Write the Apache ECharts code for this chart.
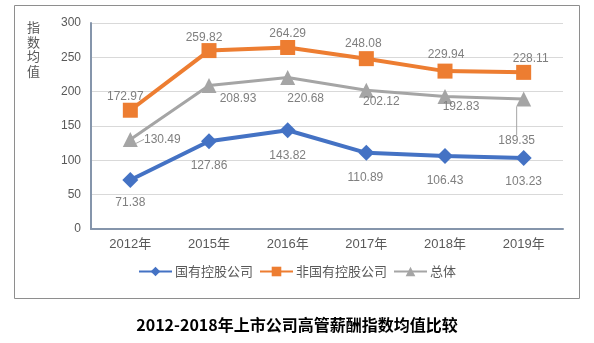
<!DOCTYPE html>
<html>
<head>
<meta charset="utf-8">
<script src="https://cdn.jsdelivr.net/npm/echarts@6/dist/echarts.min.js"></script>
<style>
  html, body { margin: 0; padding: 0; background: #fff; }
  #chart { width: 594px; height: 343px; }
</style>
</head>
<body>
<div id="chart"></div>
<script>
// Categories and series values
const years = ['2012年', '2015年', '2016年', '2017年', '2018年', '2019年'];
const stateOwned = [71.38, 127.86, 143.82, 110.89, 106.43, 103.23];
const nonStateOwned = [172.97, 259.82, 264.29, 248.08, 229.94, 228.11];
const overall = [130.49, 208.93, 220.68, 202.12, 192.83, 189.35];
const seriesNames = ['国有控股公司', '非国有控股公司', '总体'];
const yTicks = [0, 50, 100, 150, 200, 250, 300];
const yAxisTitle = ['指', '数', '均', '值'];
const chartTitle = '2012-2018年上市公司高管薪酬指数均值比较';

// Label placement relative to each marker centre
const blueLabelShift = [[0, 23], [0, 24], [0, 25], [-1, 25], [0, 25], [0, 24]];
const orangeLabelShift = [[-5, -14], [-5, -13], [0, -14], [-3, -15], [1, -16], [7, -14]];
const grayLabelShift = [[32, 0], [29, 13], [18, 21], [15, 11], [16, 10], [-7, 42]];
const grayWithLeader = [true, false, false, false, false, true];

const labelColor = '#7f7f7f';
const labelFont = { color: labelColor, fontSize: 12, fontFamily: 'Liberation Sans, Arial, sans-serif' };

function makeData(values, shifts) {
  return values.map((v, i) => ({ value: v, label: { offset: shifts[i] } }));
}

const chart = echarts.init(document.getElementById('chart'), null, { renderer: 'canvas' });

chart.setOption({
  animation: false,
  backgroundColor: '#ffffff',
  grid: { left: 91, right: 31, top: 23, bottom: 114 },
  graphic: [
    {
      type: 'rect',
      shape: { x: 14.5, y: 5.5, width: 565, height: 293 },
      style: { fill: 'none', stroke: '#8e8e8e', lineWidth: 1 },
      z: -1
    },
    {
      type: 'text',
      left: 27, top: 20,
      style: {
        text: yAxisTitle.join('\n'),
        fill: '#595959',
        font: '13px "Noto Sans CJK SC", sans-serif',
        lineHeight: 14.5
      }
    },
    {
      type: 'text',
      left: 'center', top: 317,
      style: {
        text: chartTitle,
        fill: '#000000',
        font: 'bold 16px "Noto Sans CJK SC", sans-serif'
      }
    }
  ],
  legend: {
    bottom: 60,
    left: 'center',
    itemWidth: 33,
    itemHeight: 12,
    itemGap: 6,
    textStyle: { color: '#595959', fontSize: 13, fontFamily: '"Noto Sans CJK SC", sans-serif', padding: [0, 0, 0, -2] },
    data: seriesNames
  },
  xAxis: {
    type: 'category',
    data: years,
    boundaryGap: true,
    axisLine: { lineStyle: { color: '#8595ab', width: 2 } },
    axisTick: { show: false },
    axisLabel: { color: '#595959', fontSize: 13, margin: 9, fontFamily: 'Liberation Sans, Arial, "Noto Sans CJK SC", sans-serif' }
  },
  yAxis: {
    type: 'value',
    min: yTicks[0],
    max: yTicks[yTicks.length - 1],
    interval: 50,
    axisLine: { show: true, lineStyle: { color: '#8595ab', width: 2 } },
    axisTick: { show: false },
    axisLabel: { color: '#595959', fontSize: 12, margin: 10, fontFamily: 'Liberation Sans, Arial, sans-serif' },
    splitLine: { lineStyle: { color: '#d9d9d9', width: 1 } }
  },
  series: [
    {
      name: seriesNames[0],
      type: 'line',
      data: makeData(stateOwned, blueLabelShift),
      symbol: 'diamond',
      symbolSize: 16,
      lineStyle: { color: '#4472c4', width: 4 },
      itemStyle: { color: '#4472c4' },
      label: { show: true, position: 'inside', ...labelFont }
    },
    {
      name: seriesNames[1],
      type: 'line',
      data: makeData(nonStateOwned, orangeLabelShift),
      symbol: 'rect',
      symbolSize: 15,
      lineStyle: { color: '#ed7d31', width: 4 },
      itemStyle: { color: '#ed7d31' },
      label: { show: true, position: 'inside', ...labelFont }
    },
    {
      name: seriesNames[2],
      type: 'line',
      data: overall.map((v, i) => ({ value: v, labelLine: { show: grayWithLeader[i] } })),
      symbol: 'triangle',
      symbolSize: 15,
      lineStyle: { color: '#a5a5a5', width: 3 },
      itemStyle: { color: '#a5a5a5' },
      label: { show: true, position: 'inside', ...labelFont },
      labelLine: { show: true, lineStyle: { color: '#a5a5a5', width: 1 } },
      labelLayout: function (p) {
        const s = grayLabelShift[p.dataIndex];
        return { dx: s[0], dy: s[1] };
      }
    }
  ]
});
</script>
</body>
</html>
